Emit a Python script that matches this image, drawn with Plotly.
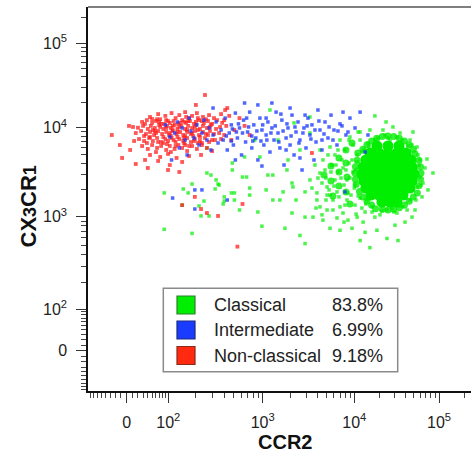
import numpy as np
import plotly.graph_objects as go

# ---------------- data (fluorescence intensities) ----------------
POPULATIONS = ["Classical", "Intermediate", "Non-classical"]
PERCENTS = ["83.8%", "6.99%", "9.18%"]
TICK_VALUES = [0, 100, 1000, 10000, 100000]
TICK_LABELS = ["0", "10<sup>2</sup>", "10<sup>3</sup>", "10<sup>4</sup>", "10<sup>5</sup>"]

# Non-classical monocytes (red)
NC_CCR2 = [45, 66, 89, 109, 133, 154, 183, 206, 239, 277, 312, 370, 408, 450, 121, 170, 72,
           28, 38, 50, 60, 75, 92, 104, 115, 130, 143, 158, 174, 192, 217, 245, 270, 298, 336, 380, 34, 63, 99, 150, 201, 257,
           20, 30, 40, 47, 57, 69, 82, 95, 107, 118, 127, 140, 154, 166, 183, 201, 222, 239, 263, 290, 328, 361, 419, 11, 52, 112, 162, 211, 72, 133,
           16, 26, 36, 45, 55, 66, 78, 92, 102, 112, 124, 136, 147, 162, 178, 196, 217, 239, 257, 283, 312, 353, 399, 32, 107, 154, 60, 188,
           22, 32, 43, 52, 63, 75, 89, 99, 109, 121, 133, 147, 162, 178, 196, 222, 251, 277, 320, 370, 13, 38, 82, 127, 211,
           28, 40, 50, 63, 75, 92, 104, 118, 130, 143, 162, 183, 206, 233, 263, 298, 60, 107, 154,
           45, 72, 99, 124, 170, 228, 34, 143, 104, 66,
           -27, -8, 16, 40, 4, 251, 201, 99, 133, 196, 228, 263, 344, 143, 618, 547, 3450, 429, 399, 575, 509, 649, 473, 733, -12, 6,
           50, 69, 92, 112, 136, 166, 196, 233, 283, 57, 82, 104, 127, 150, 183, 222, 270, 298, 66, 95, 121, 150, 192, 233, 45,
           85, 158, 211, 115, 170]
NC_CX3CR1 = [13400, 14500, 13800, 14900, 14100, 15300, 13800, 14900, 13400, 14100, 13000, 14500, 16200, 13800, 13000, 13000, 12600,
             11700, 12300, 11400, 12000, 11100, 12300, 11400, 12000, 11100, 12300, 11400, 12000, 11100, 12300, 11400, 12000, 11100, 12300, 11400, 11100, 12600, 12000, 11700, 11700, 12600,
             10000, 10500, 9680, 10500, 9930, 10800, 9680, 10500, 9930, 10800, 9680, 10500, 9680, 10500, 9930, 10800, 9680, 10500, 9930, 10800, 9680, 10200, 10500, 10200, 9420, 9420, 9420, 9420, 10200, 10200,
             8720, 9180, 8500, 8950, 8280, 9180, 8500, 8950, 8280, 9180, 8500, 8950, 8280, 8950, 8500, 9180, 8280, 8950, 8500, 9180, 8500, 8720, 8280, 8070, 8070, 8070, 8720, 8070,
             7460, 7090, 7660, 7090, 7660, 6910, 7460, 7090, 7660, 6910, 7460, 7090, 7660, 6910, 7460, 7090, 7660, 6910, 7270, 7460, 7090, 6730, 6730, 7860, 6730,
             6230, 5770, 6390, 5920, 6230, 5620, 6230, 5770, 6390, 5920, 5470, 6230, 5770, 6390, 5920, 5470, 5330, 5330, 6390,
             4940, 4690, 5070, 4570, 4810, 4940, 4340, 4120, 3810, 4230,
             8280, 4570, 3910, 3530, 10500, 24400, 18600, 3350, 3180, 1670, 1220, 1100, 1020, 1350, 1390, 483, 5200, 17100, 12300, 13000, 9420, 10500, 7270, 8280, 6390, 5620,
             12650, 11700, 9930, 10500, 11400, 12000, 10200, 12000, 10200, 9180, 7860, 8720, 8950, 7660, 8720, 7860, 8280, 7270, 6910, 6560, 6230, 6730, 7090, 6730, 7860,
             11100, 13400, 13000, 7270, 6230]

# Intermediate monocytes (blue)
INT_CCR2 = [89, 104, 118, 127, 143, 154, 170, 178, 192, 206, 217, 233, 245, 263, 277, 290, 305, 328, 344, 133, 162, 109,
            370, 389, 408, 429, 450, 473, 497, 521, 547, 575, 604, 634, 665, 698, 733, 771, 809, 849, 891, 936, 982,
            1030, 1090, 1140, 1200, 1260, 1330, 1400, 1470, 1540, 1620, 1710, 1800, 1890, 1990, 2090, 2200, 2310, 2430, 2550,
            2690, 2820, 2970, 3120, 3280, 3450, 3630, 3820, 4010, 4220, 4440, 4790, 5160, 5570, 6000, 6470, 6980, 7530, 8110,
            8970, 10200, 11700, 13400, 14500, 7910, 112, 196, 233, 196, 429, 891, 1260, 1990, 305, 649, 521, 982, 2550, 473,
            771, 1800, 1090,
            419, 485, 561, 618, 715, 790, 870, 1000, 1110, 1230, 1370, 1500, 1670, 1840, 2040, 2250, 2490, 2750, 3050, 3360,
            3720, 4110, 4670, 5300, 5850, 6630, 7340, 8530, 534, 682, 959, 1580, 2900, 4440]
INT_CX3CR1 = [10800, 7860, 8720, 11700, 9930, 7270, 13000, 9180, 7660, 10800, 6390, 8720, 12300, 7270, 9930, 5620, 8280, 11700, 6730, 5920, 4940, 4340,
              9420, 7270, 13000, 5620, 8720, 10800, 6390, 14900, 7660, 9930, 4940, 12300, 6910, 8950, 15300, 5920, 10800, 7660, 4340, 13000, 9420,
              6390, 8280, 11700, 5330, 9930, 7270, 15300, 8720, 5920, 12300, 3810, 7660, 9930, 6390, 14100, 4940, 8950, 11700, 7270,
              3350, 9930, 5920, 13000, 8280, 10800, 4340, 6910, 16200, 9420, 5620, 11700, 7660, 14100, 9420, 6390, 11100, 15300, 8280,
              13000, 9930, 15300, 5330, 8280, 1900, 1620, 2000, 2000, 1220, 1540, 18600, 19600, 17100, 17100, 19600, 4340, 3710, 4570, 7090,
              8070, 5620, 13000,
              8070, 9680, 11100, 8720, 10200, 7090, 9180, 10800, 7270, 8720, 10500, 6910, 9180, 11100, 8070, 10200, 6730, 8720, 10500, 7460,
              9420, 12000, 8500, 10200, 7270, 9180, 10500, 8950, 8950, 13000, 7090, 14500, 14100, 7270]

# Classical monocytes (green): scattered events
CL_CCR2 = [85, 183, 263, 263, 290, 328, 321, 344, 147, 166, 143, 245, 399, 389, 228, 277, 85, 183, 217, 509,
           485, 485, 618, 649, 682, 733, 733, 473, 399, 509, 353, 936, 982, 1140, 1200, 1290, 1290, 1540, 1670, 1840,
           2090, 2090, 2140, 2200, 2550, 2900, 2900, 2900, 2550, 3280, 3280, 3280, 3540, 3910, 3910, 4220, 4220, 4440, 4550, 5040,
           1890, 1470, 828, 575, 891, 1750, 2310, 1090,
           4550, 4220, 5040, 5430, 5850, 6980, 6980, 7530, 8320, 8530, 8970, 11100, 15300, 21800, 34700, 45500, 55000, 59700, 59700, 55000,
           45500, 37600, 31900, 24300, 17500, 12700, 10800, 6980, 18500, 24300, 15300, 48000, 63000, 64700, 72100, 84900, 49300, 28600, 23700, 17500,
           3720, 4010, 4790, 5160, 5710, 6150, 6470, 6630, 7340, 7720, 7910, 8110, 8530, 8970, 9440, 9680, 10000, 10200, 10500, 10800,
           11100, 11700, 12000, 12300, 13000, 13400, 14500, 16200, 19000, 20100, 26400, 27900, 34700, 40800, 49300, 53500, 56500, 43100, 31900, 23000,
           14100, 6150, 5430, 4910, 3450, 3820, 6470, 9440, 13400, 30200, 39700, 52100, 68400, 74100, 32800, 11700, 5430,
           4440, 4910, 5300, 5570, 6000, 6300, 6800, 7160, 7530, 7910, 8320, 8750, 9200, 9680, 10200, 10800, 11400, 11700, 12300, 12700,
           13700, 14900, 16200, 17500, 21200, 25000, 29400, 36600, 42000, 48000, 53500, 58000, 61300, 6630, 5850, 5040, 7720, 10500, 8750, 11700]
CL_CX3CR1 = [1850, 2330, 5920, 3100, 2940, 2590, 2050, 2330, 2050, 1850, 1350, 1500, 1500, 1390, 1020, 1020, 736, 667, 1320, 1850,
             4010, 3350, 2790, 4690, 2790, 2100, 1750, 1850, 1670, 1540, 2270, 4690, 794, 2940, 16200, 2940, 1540, 1540, 1900, 3350,
             2390, 1100, 2160, 11400, 5620, 520, 990, 1900, 634, 13400, 8720, 2590, 990, 1850, 1540, 5620, 1290, 1050, 920, 1190,
             4340, 7270, 7270, 1190, 1130, 755, 1540, 2000,
             4340, 3100, 2160, 6070, 1540, 7270, 1290, 1100, 1540, 920, 7860, 8950, 9420, 9420, 8720, 7270, 6070, 4340, 2790, 2160,
             1540, 1290, 1100, 1190, 990, 877, 990, 719, 719, 589, 471, 990, 1670, 2390, 4450, 3100, 8950, 10200, 11700, 13800,
             3810, 2720, 3350, 4940, 3810, 2590, 1900, 3180, 4340, 2270, 5620, 3350, 1850, 2720, 4340, 6390, 2100, 1350, 3350, 4940,
             1710, 7270, 2450, 1250, 5620, 1130, 6730, 1130, 7660, 1050, 7270, 1250, 1320, 1620, 2000, 3350, 4940, 6230, 7860, 8280,
             1540, 4940, 1750, 1540, 2100, 1250, 970, 755, 684, 813, 877, 1190, 3530, 2000, 560, 560, 755,
             2390, 2720, 2000, 3180, 2210, 3810, 1670, 2720, 3530, 1350, 2590, 4010, 1750, 3180, 2270, 4120, 2940, 1620, 5330, 2000,
             1390, 6230, 1290, 7270, 1160, 7660, 1130, 7270, 1190, 6390, 1540, 3810, 2270, 5620, 1190, 1750, 877, 1070, 7270, 8950]

# Classical monocytes (green): fringe of the dense population
CL_EDGE_CCR2 = [61300, 60500, 58000, 52000, 49700, 44500, 39100, 34000, 29200, 25000, 21400, 18400, 16000, 14100, 12600,
                11000, 10800, 10300, 10200, 10300, 10500, 11500, 12600, 14100, 16000, 17800, 21400, 25000, 29200, 34000,
                39100, 44500, 49700, 55500, 58000, 60500,
                8110, 8110, 8320, 8110, 6800, 6800, 6800, 5570, 5570, 8970, 9440, 4670, 5850]
CL_EDGE_CX3CR1 = [3100, 3650, 4300, 5100, 5730, 6440, 7090, 7620, 7940, 8070, 7940, 7620, 7090, 6440, 5730,
                  5200, 4300, 3650, 3100, 2630, 2300, 1920, 1670, 1490, 1350, 1230, 1210, 1190, 1210, 1260,
                  1350, 1490, 1670, 1850, 2230, 2630,
                  5620, 4010, 2790, 1900, 4570, 3180, 2210, 3710, 2520, 1390, 6730, 2940, 1710]

# Classical monocytes (green): dense core of the population
CL_CORE_CCR2 = [18500, 25000, 33700,
                15300, 19600, 25000, 31900, 40800,
                13700, 17100, 21200, 26400, 32800, 40800, 46700,
                12700, 15700, 19600, 24300, 30200, 37600, 48000,
                12300, 15300, 19000, 23700, 29400, 36600, 45500, 50700,
                13000, 16200, 20100, 25000, 31100, 38600, 48000,
                13700, 17100, 21200, 26400, 32800, 40800, 45500,
                15700, 19600, 24300, 30200, 37600,
                21200, 26400, 31900]
CL_CORE_CX3CR1 = [6230, 6230, 6230,
                  5200, 5200, 5200, 5200, 5200,
                  4340, 4340, 4340, 4340, 4340, 4340, 4340,
                  3620, 3620, 3620, 3620, 3620, 3620, 3620,
                  3020, 3020, 3020, 3020, 3020, 3020, 3020, 3020,
                  2520, 2520, 2520, 2520, 2520, 2520, 2520,
                  2100, 2100, 2100, 2100, 2100, 2100, 2100,
                  1750, 1750, 1750, 1750, 1750,
                  1460, 1460, 1460]

X_MINOR_VALUES = ([-v for v in range(10, 100, 10)] + list(range(10, 100, 10)) +
                  [m * 10 ** k for k in (2, 3, 4) for m in range(2, 10)] + [200000])
Y_MINOR_VALUES = X_MINOR_VALUES

# ---------------- axis calibration (biexponential display) ----------------
X_ANCHOR_DISPLAY = [38.7, 80.3, 174.7, 266.3, 351.0]
Y_ANCHOR_DISPLAY = [40.3, 81.7, 174.3, 263.3, 347.7]
COFACTOR = 50.0


def biex(values, anchor_disp):
    u = np.arcsinh(np.asarray(values, float) / COFACTOR)
    ua = np.arcsinh(np.asarray(TICK_VALUES, float) / COFACTOR)
    d = np.asarray(anchor_disp, float)
    out = np.interp(u, ua, d)
    lo = u < ua[0]
    hi = u > ua[-1]
    out[lo] = d[0] + (u[lo] - ua[0]) * (d[1] - d[0]) / (ua[1] - ua[0])
    out[hi] = d[-1] + (u[hi] - ua[-1]) * (d[-1] - d[-2]) / (ua[-1] - ua[-2])
    return out


bx = lambda v: biex(v, X_ANCHOR_DISPLAY)
by = lambda v: biex(v, Y_ANCHOR_DISPLAY)

GREEN = "#00ee00"
BLUE = "#1434ff"
RED = "#ff1e1e"

fig = go.Figure()
fig.add_trace(go.Scatter(x=bx(CL_CCR2), y=by(CL_CX3CR1), mode="markers", hoverinfo="skip",
                         marker=dict(symbol="square", size=3.5, color=GREEN, opacity=0.7, line=dict(width=0))))
fig.add_trace(go.Scatter(x=bx(CL_EDGE_CCR2), y=by(CL_EDGE_CX3CR1), mode="markers", hoverinfo="skip",
                         marker=dict(symbol="circle", size=7, color=GREEN, opacity=0.8, line=dict(width=0))))
fig.add_trace(go.Scatter(x=bx(CL_CORE_CCR2), y=by(CL_CORE_CX3CR1), mode="markers", hoverinfo="skip",
                         marker=dict(symbol="circle", size=11, color=GREEN, opacity=1, line=dict(width=0))))
fig.add_trace(go.Scatter(x=bx(NC_CCR2), y=by(NC_CX3CR1), mode="markers", hoverinfo="skip",
                         marker=dict(symbol="square", size=3.8, color=RED, opacity=0.75, line=dict(width=0))))
fig.add_trace(go.Scatter(x=bx(INT_CCR2), y=by(INT_CX3CR1), mode="markers", hoverinfo="skip",
                         marker=dict(symbol="square", size=3.5, color=BLUE, opacity=0.75, line=dict(width=0))))

# ---------------- layout ----------------
W, H = 471, 452
L, R, T, B = 88, 0, 7, 61
PW, PH = W - L - R, H - T - B


def pxx(p):
    return (p - L) / PW


def pxy(p):
    return (H - B - p) / PH


FONT = "Liberation Sans, Arial, Helvetica, sans-serif"
axis_common = dict(showgrid=False, zeroline=False, showline=True, linecolor="#111", linewidth=1.5,
                   ticks="outside", ticklen=10, tickwidth=1.4, tickcolor="#333",
                   tickfont=dict(family=FONT, size=16, color="#222"),
                   ticktext=TICK_LABELS)

fig.update_xaxes(range=[0, PW], tickvals=bx(TICK_VALUES), ticklabelstandoff=6,
                 minor=dict(tickvals=bx(X_MINOR_VALUES), ticks="outside", ticklen=5, tickwidth=1, tickcolor="#444"),
                 **axis_common)
fig.update_yaxes(range=[0, PH], tickvals=by(TICK_VALUES), ticklabelstandoff=6,
                 minor=dict(tickvals=by(Y_MINOR_VALUES), ticks="outside", ticklen=5, tickwidth=1, tickcolor="#444"),
                 **axis_common)

shapes = [dict(type="line", xref="paper", yref="paper", x0=0, x1=1, y0=1, y1=1,
               line=dict(color="#555", width=1.5))]
# legend box
shapes.append(dict(type="rect", xref="paper", yref="paper", x0=pxx(163.3), x1=pxx(397.7),
                   y0=pxy(371.7), y1=pxy(288.3), line=dict(color="#8a8a8a", width=1.5), fillcolor="white"))
annotations = []
legend_fill = [GREEN, "#1a3cff", "#ff2a10"]
legend_edge = ["#2f7f2f", "#1c2a80", "#8a2a1a"]
row_centers = [305, 330, 355.5]
for name, pct, fc, ec, cy in zip(POPULATIONS, PERCENTS, legend_fill, legend_edge, row_centers):
    shapes.append(dict(type="rect", xref="paper", yref="paper", x0=pxx(177), x1=pxx(195),
                       y0=pxy(cy + 9), y1=pxy(cy - 9), line=dict(color=ec, width=1.2), fillcolor=fc))
    annotations.append(dict(xref="paper", yref="paper", x=pxx(212), y=pxy(cy), text=name, showarrow=False,
                            xanchor="left", yanchor="middle", font=dict(family=FONT, size=18, color="#222")))
    annotations.append(dict(xref="paper", yref="paper", x=pxx(385), y=pxy(cy), text=pct, showarrow=False,
                            xanchor="right", yanchor="middle", font=dict(family=FONT, size=18, color="#222")))

annotations.append(dict(xref="paper", yref="paper", x=pxx(284.5), y=pxy(442), text="<b>CCR2</b>",
                        showarrow=False, xanchor="center", yanchor="middle",
                        font=dict(family=FONT, size=20, color="#111")))
annotations.append(dict(xref="paper", yref="paper", x=pxx(27.5), y=pxy(206), textangle=-90,
                        text="<b>CX</b><span style='font-size:18px'><b>3</b></span><b>CR</b><span style='font-size:18px'><b>1</b></span>",
                        showarrow=False, xanchor="center", yanchor="middle",
                        font=dict(family=FONT, size=22, color="#111")))

fig.update_layout(width=W, height=H, margin=dict(l=L, r=R, t=T, b=B, pad=0),
                  paper_bgcolor="white", plot_bgcolor="white", showlegend=False,
                  shapes=shapes, annotations=annotations)

fig.write_html("out.html")
